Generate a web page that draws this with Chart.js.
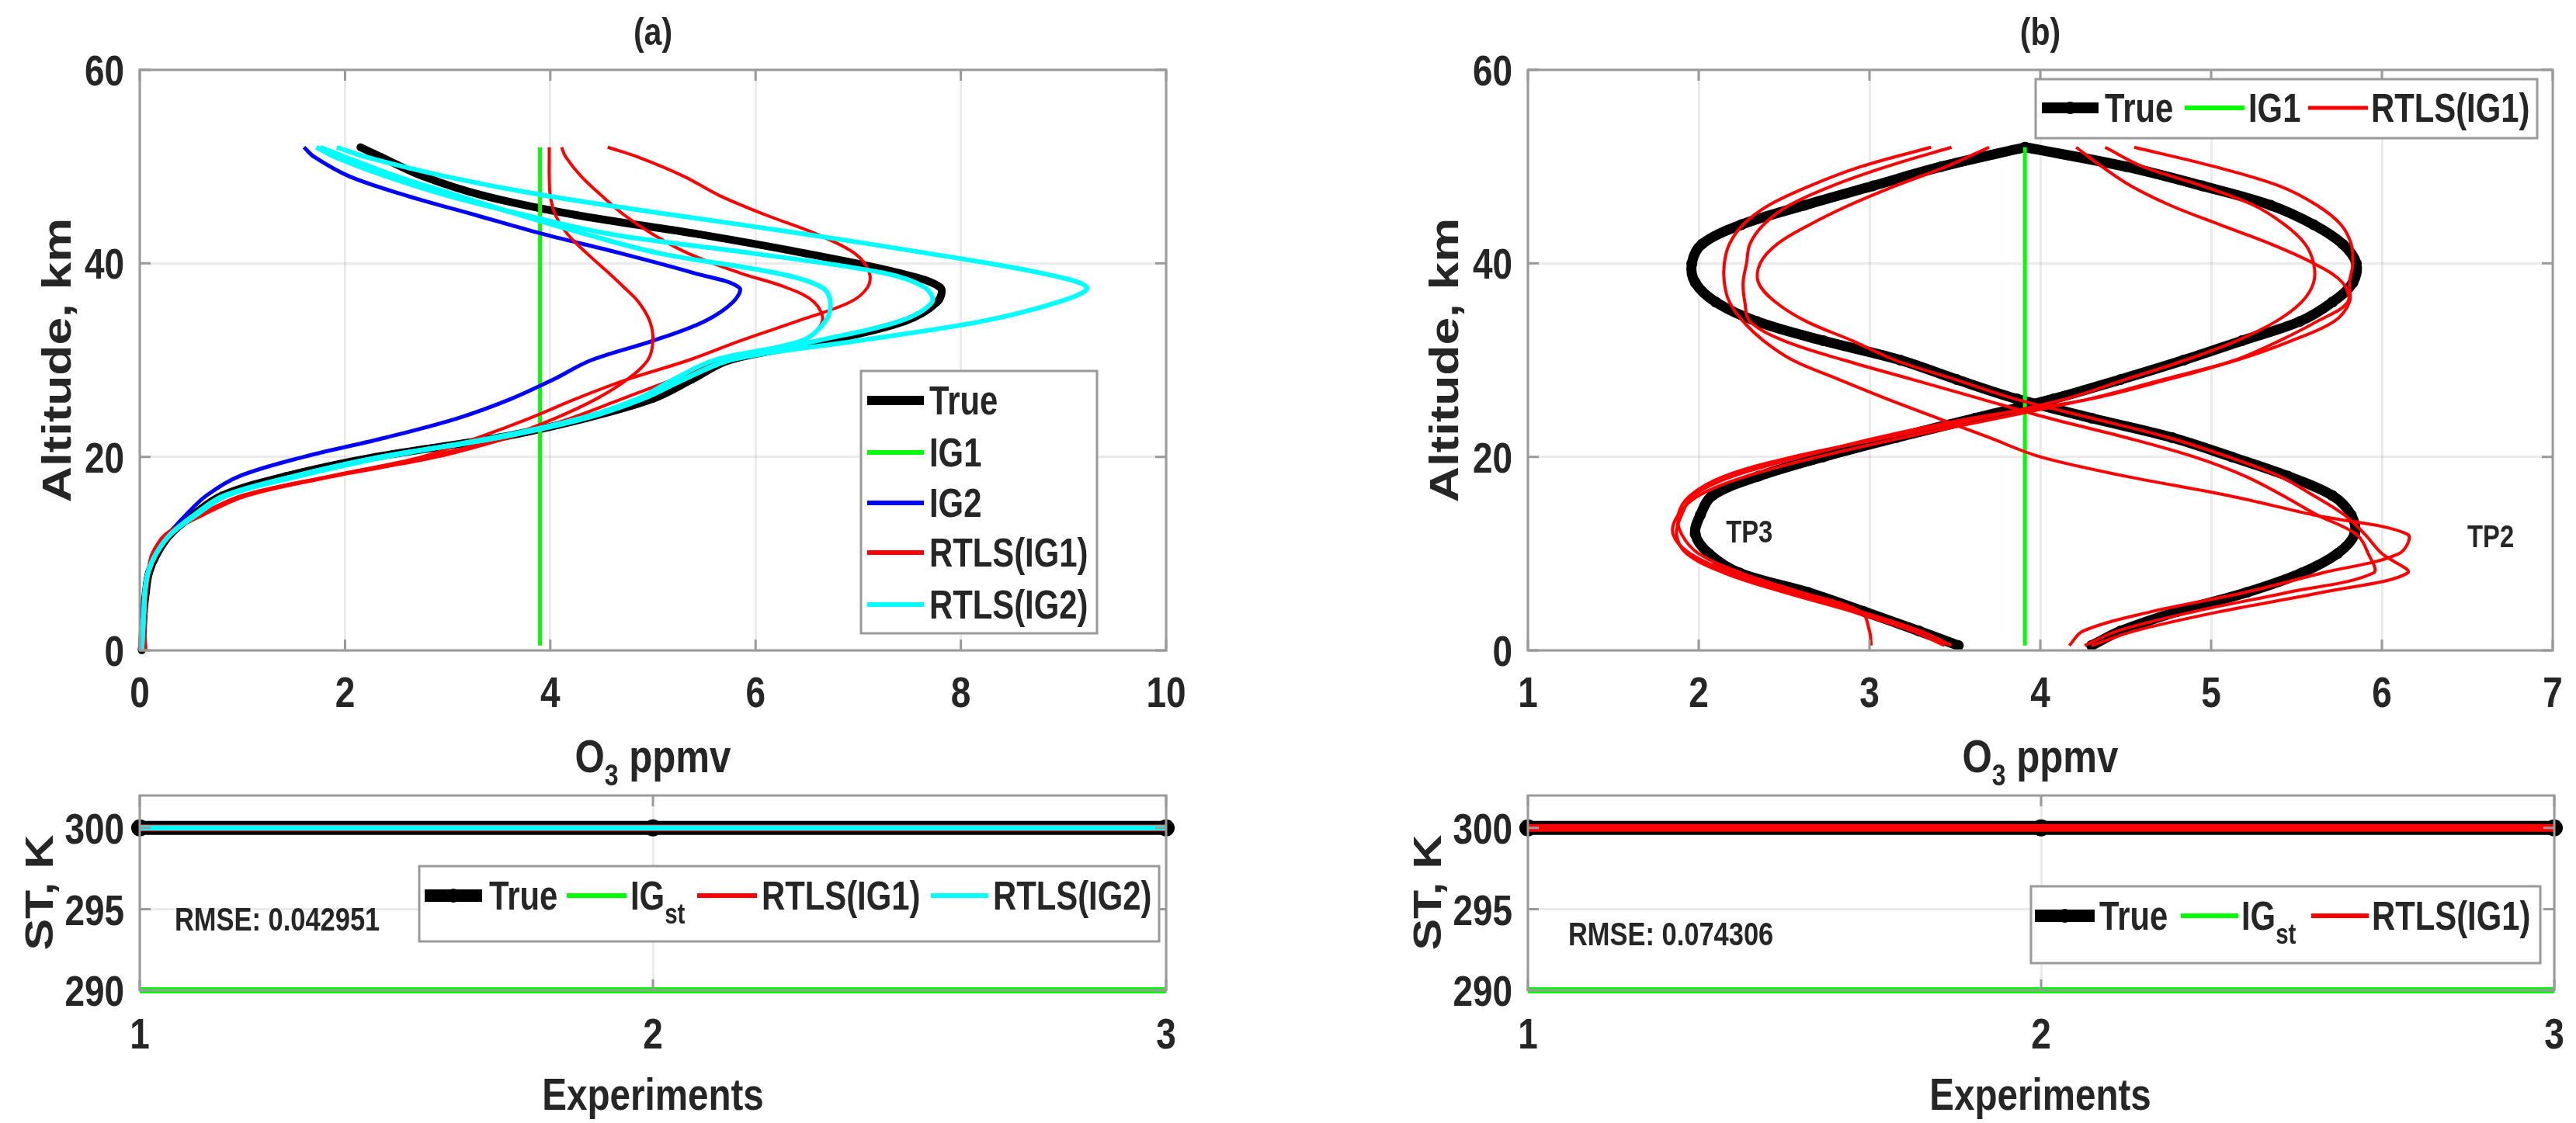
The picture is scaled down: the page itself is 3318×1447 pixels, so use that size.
<!DOCTYPE html>
<html><head><meta charset="utf-8">
<script src="https://cdn.jsdelivr.net/npm/chart.js@4.4.1/dist/chart.umd.min.js"></script>
<style>
html,body{margin:0;padding:0;background:#fff;}
#wrap{position:relative;width:3318px;height:1447px;overflow:hidden;background:#fff;}
canvas{position:absolute;left:0;top:0;}
</style></head><body>
<div id="wrap">
<canvas id="cA" width="3318" height="1447"></canvas>
<canvas id="cB" width="3318" height="1447"></canvas>
<canvas id="cC" width="3318" height="1447"></canvas>
<canvas id="cD" width="3318" height="1447"></canvas>
</div>
<script>
// ---------------- DATA ----------------
// Panel (a): ozone profiles, altitude in km
const altA = [0, 2, 4, 6, 8, 10, 12, 14, 16, 18, 20, 22, 24, 26, 28, 30, 32, 34, 36, 37.5, 39, 41, 43, 45, 47, 49, 51, 52];
const trueA = [0.02, 0.03, 0.04, 0.06, 0.09, 0.17, 0.3, 0.52, 0.8, 1.42, 2.3, 3.5, 4.35, 5.0, 5.38, 5.75, 6.7, 7.45, 7.77, 7.8, 7.4, 6.5, 5.45, 4.25, 3.35, 2.76, 2.35, 2.15];
const ig2A = [0.0, 0.02, 0.03, 0.05, 0.08, 0.15, 0.28, 0.45, 0.65, 0.97, 1.6, 2.4, 3.1, 3.62, 4.03, 4.4, 5.0, 5.5, 5.78, 5.84, 5.4, 4.7, 3.94, 3.27, 2.6, 2.04, 1.7, 1.6];
const rtlsIG1A_1 = [0.05, 0.05, 0.06, 0.07, 0.09, 0.13, 0.25, 0.6, 1.0, 1.85, 2.8, 3.55, 4.05, 4.45, 4.75, 4.95, 5.0, 4.97, 4.86, 4.72, 4.57, 4.36, 4.17, 4.05, 4.0, 3.99, 3.99, 3.99];
const rtlsIG1A_2 = [0.04, 0.04, 0.05, 0.06, 0.08, 0.13, 0.28, 0.62, 1.05, 1.9, 2.9, 3.6, 4.2, 4.7, 5.2, 5.7, 6.45, 6.65, 6.57, 6.3, 5.85, 5.35, 5.0, 4.72, 4.5, 4.3, 4.15, 4.11];
const rtlsIG1A_3 = [0.06, 0.05, 0.05, 0.06, 0.08, 0.12, 0.26, 0.58, 1.0, 1.85, 2.75, 3.3, 3.8, 4.25, 4.75, 5.35, 5.85, 6.4, 6.92, 7.09, 7.11, 6.97, 6.6, 6.1, 5.65, 5.3, 4.85, 4.56];
const rtlsIG2A_1 = [0.02, 0.03, 0.04, 0.05, 0.08, 0.16, 0.3, 0.55, 0.85, 1.5, 2.35, 3.5, 4.35, 4.9, 5.3, 5.75, 7.0, 8.2, 8.95, 9.23, 8.78, 7.7, 6.5, 5.2, 3.95, 2.97, 2.2, 1.92];
const rtlsIG2A_2 = [0.02, 0.03, 0.04, 0.05, 0.08, 0.16, 0.3, 0.53, 0.82, 1.5, 2.35, 3.5, 4.3, 4.9, 5.3, 5.75, 6.6, 7.4, 7.72, 7.65, 7.25, 6.0, 4.6, 3.75, 3.0, 2.4, 1.9, 1.72];
const rtlsIG2A_3 = [0.02, 0.03, 0.04, 0.05, 0.08, 0.16, 0.3, 0.55, 0.85, 1.55, 2.4, 3.45, 4.3, 4.85, 5.2, 5.6, 6.45, 6.68, 6.73, 6.65, 6.2, 5.08, 4.35, 3.7, 3.1, 2.5, 2.0, 1.76];
const altIG1 = [0.5, 52];
const ig1A = [3.9, 3.9];

// Panel (b): test profiles TP2 / TP3
const altB = [0.5, 2, 4, 6, 8, 10, 12, 14, 16, 18, 20, 22, 24, 26, 28, 30, 32, 34, 36, 38, 40, 42, 44, 46, 48, 50, 52];
const trueTP2 = [4.3, 4.47, 4.8, 5.21, 5.53, 5.74, 5.84, 5.82, 5.71, 5.45, 5.12, 4.77, 4.3, 3.86, 3.51, 3.18, 2.73, 2.34, 2.1, 1.98, 1.96, 2.02, 2.25, 2.62, 3.02, 3.42, 3.91];
const trueTP3 = [3.52, 3.29, 2.97, 2.64, 2.24, 2.06, 1.98, 2.01, 2.08, 2.35, 2.73, 3.16, 3.62, 4.08, 4.47, 4.84, 5.18, 5.52, 5.71, 5.83, 5.85, 5.77, 5.6, 5.35, 4.95, 4.5, 3.91];
const rtlsTP2_1 = [4.17, 4.25, 4.65, 5.2, 5.65, 6.1, 6.15, 5.6, 5.1, 4.5, 4.0, 3.7, 3.4, 3.1, 2.82, 2.55, 2.38, 2.26, 2.18, 2.15, 2.15, 2.18, 2.26, 2.41, 2.65, 2.95, 3.36];
const rtlsTP2_2 = [4.26, 4.45, 4.9, 5.45, 5.95, 5.92, 5.85, 5.62, 5.42, 5.2, 4.9, 4.5, 4.05, 3.65, 3.25, 2.85, 2.5, 2.3, 2.27, 2.26, 2.28, 2.3, 2.38, 2.53, 2.78, 3.1, 3.48];
const rtlsTP2_3 = [4.3, 4.55, 5.05, 5.65, 6.15, 6.0, 5.9, 5.78, 5.6, 5.4, 5.1, 4.75, 4.3, 3.85, 3.5, 3.15, 2.9, 2.63, 2.45, 2.35, 2.36, 2.46, 2.65, 2.88, 3.15, 3.45, 3.7];
const rtlsTP3_1 = [3.48, 3.3, 2.95, 2.55, 2.2, 1.95, 1.85, 1.88, 2.0, 2.28, 2.7, 3.2, 3.75, 4.29, 4.72, 5.15, 5.47, 5.72, 5.81, 5.81, 5.83, 5.82, 5.76, 5.62, 5.4, 5.02, 4.55];
const rtlsTP3_2 = [3.01, 3.0, 2.95, 2.6, 2.25, 2.0, 1.9, 1.88, 1.95, 2.15, 2.55, 3.1, 3.65, 4.15, 4.5, 4.85, 5.15, 5.38, 5.53, 5.6, 5.6, 5.55, 5.43, 5.25, 4.95, 4.6, 4.38];
const rtlsTP3_3 = [3.44, 3.25, 2.9, 2.5, 2.15, 1.93, 1.87, 1.9, 1.97, 2.2, 2.6, 3.05, 3.6, 4.3, 4.75, 5.14, 5.4, 5.62, 5.8, 5.77, 5.6, 5.35, 5.05, 4.76, 4.53, 4.36, 4.21];
const ig1B = [3.91, 3.91];

// Bottom panels: surface temperature per experiment
const experiments = [1, 2, 3];
const stTrueA = [300, 300, 300];
const stIGA = [290, 290, 290];
const stRtlsIG1A = [300, 300, 300];
const stRtlsIG2A = [300, 300, 300];
const stTrueB = [300, 300, 300];
const stIGB = [290, 290, 290];
const stRtlsIG1B = [300, 300, 300];

// Tick labels
const xTicksA = [0, 2, 4, 6, 8, 10];
const xTicksB = [1, 2, 3, 4, 5, 6, 7];
const yTicksAlt = [0, 20, 40, 60];
const xTicksExp = [1, 2, 3];
const yTicksST = [290, 295, 300];

const rmseA = 'RMSE: 0.042951';
const rmseB = 'RMSE: 0.074306';

// ---------------- STYLE / LAYOUT ----------------
const W = 3318, H = 1447, YW = 120, XH = 120, TL = 14, SX = 0.82;
const FAM = '"Liberation Sans","Arimo",Arial,"DejaVu Sans",sans-serif';
const TXT = '#262626', AXIS = '#9a9a9a', GRID = 'rgba(0,0,0,0.08)';
const BLACK = '#000000', GREEN = '#00ff00', BLUE = '#0000ff', RED = '#ff0000', CYAN = '#00ffff';

function pts(xs, ys) { return xs.map((x, i) => ({ x: x, y: ys[i] })); }
function prof(vals, alts) { return vals.map((v, i) => ({ x: v, y: alts[i] })); }

function ds(data, color, width, order, extra) {
  return Object.assign({ data: data, showLine: true, borderColor: color, backgroundColor: color,
    borderWidth: width, pointRadius: 0, tension: 0.35, order: order, clip: 20 }, extra || {});
}

function bfont(px) { return 'bold ' + px + 'px ' + FAM; }
function measure(ctx, s, px) { ctx.font = bfont(px); return ctx.measureText(s).width * SX; }
// horizontally condensed bold text; cy = visual centre of capitals
function text(ctx, s, x, cy, px, align) {
  const w = measure(ctx, s, px);
  let x0 = x; if (align === 'center') x0 = x - w / 2; else if (align === 'right') x0 = x - w;
  ctx.save(); ctx.translate(x0, cy + px * 0.36); ctx.scale(SX, 1);
  ctx.font = bfont(px); ctx.fillStyle = TXT; ctx.textAlign = 'left'; ctx.textBaseline = 'alphabetic';
  ctx.fillText(s, 0, 0); ctx.restore();
  return w;
}
function rotText(ctx, s, cx, cy, px) {
  ctx.save(); ctx.translate(cx, cy); ctx.rotate(-Math.PI / 2); ctx.scale(1, SX);
  ctx.font = bfont(px); ctx.fillStyle = TXT; ctx.textAlign = 'center'; ctx.textBaseline = 'alphabetic';
  ctx.fillText(s, 0, px * 0.36); ctx.restore();
}
function subText(ctx, main, sub, x, cy, px) {
  const w1 = text(ctx, main, x, cy, px, 'left');
  text(ctx, sub, x + w1, cy + px * 0.45, Math.round(px * 0.7), 'left');
}
function o3Label(ctx, cx, cy, px) {
  const sp = Math.round(px * 0.65);
  const wO = measure(ctx, 'O', px), w3 = measure(ctx, '3', sp), wP = measure(ctx, ' ppmv', px);
  const x0 = cx - (wO + w3 + wP) / 2;
  text(ctx, 'O', x0, cy, px);
  text(ctx, '3', x0 + wO, cy + px * 0.42, sp);
  text(ctx, ' ppmv', x0 + wO + w3, cy, px);
}
function legendBox(ctx, x0, y0, x1, y1) {
  ctx.fillStyle = '#ffffff'; ctx.fillRect(x0, y0, x1 - x0, y1 - y0);
  ctx.strokeStyle = AXIS; ctx.lineWidth = 3; ctx.strokeRect(x0, y0, x1 - x0, y1 - y0);
}
function sample(ctx, x0, x1, y, color, w, marker) {
  ctx.strokeStyle = color; ctx.lineWidth = w; ctx.lineCap = 'butt';
  ctx.beginPath(); ctx.moveTo(x0, y); ctx.lineTo(x1, y); ctx.stroke();
  if (marker) { ctx.fillStyle = color; ctx.beginPath(); ctx.arc((x0 + x1) / 2, y, marker, 0, Math.PI * 2); ctx.fill(); }
}

function panelPlugin(extra, xLabelCy) {
  return { id: 'panel', afterDraw(chart) {
    const ctx = chart.ctx, a = chart.chartArea, xs = chart.scales.x, ys = chart.scales.y;
    ctx.save();
    ctx.strokeStyle = AXIS; ctx.lineWidth = 3;
    ctx.beginPath();
    xs.ticks.forEach(t => { const p = xs.getPixelForValue(t.value);
      ctx.moveTo(p, a.bottom); ctx.lineTo(p, a.bottom - TL); ctx.moveTo(p, a.top); ctx.lineTo(p, a.top + TL); });
    ys.ticks.forEach(t => { const p = ys.getPixelForValue(t.value);
      ctx.moveTo(a.left, p); ctx.lineTo(a.left + TL, p); ctx.moveTo(a.right, p); ctx.lineTo(a.right - TL, p); });
    ctx.stroke();
    ctx.strokeRect(a.left, a.top, a.right - a.left, a.bottom - a.top);
    // tick labels from the library's scales
    xs.ticks.forEach(t => text(ctx, String(t.value), xs.getPixelForValue(t.value), xLabelCy, 56, 'center'));
    ys.ticks.forEach(t => text(ctx, String(t.value), a.left - 20, ys.getPixelForValue(t.value), 56, 'right'));
    extra(ctx, chart);
    ctx.restore();
  }};
}

function makeChart(id, area, xr, yr, xt, yt, datasets, extra, xLabelCy) {
  const L = area[0], T = area[1], R = area[2], B = area[3];
  return new Chart(document.getElementById(id), {
    type: 'scatter',
    data: { datasets: datasets },
    options: {
      responsive: false, animation: false, devicePixelRatio: 1,
      layout: { padding: { left: L - YW, top: T, right: W - R, bottom: H - B - XH } },
      plugins: { legend: { display: false }, tooltip: { enabled: false } },
      scales: {
        x: { type: 'linear', min: xr[0], max: xr[1],
          afterBuildTicks: s => { s.ticks = xt.map(v => ({ value: v })); },
          afterFit: s => { s.height = XH; },
          grid: { color: GRID, lineWidth: 3, drawTicks: false }, border: { display: false },
          ticks: { display: false } },
        y: { type: 'linear', min: yr[0], max: yr[1],
          afterBuildTicks: s => { s.ticks = yt.map(v => ({ value: v })); },
          afterFit: s => { s.width = YW; },
          grid: { color: GRID, lineWidth: 3, drawTicks: false }, border: { display: false },
          ticks: { display: false } }
      }
    },
    plugins: [panelPlugin(extra, xLabelCy)]
  });
}

// ---------------- PANEL (a) top ----------------
makeChart('cA', [180, 90, 1502, 838], [0, 10], [0, 60], xTicksA, yTicksAlt, [
  ds(prof(rtlsIG2A_1, altA), CYAN, 6, 0),
  ds(prof(rtlsIG2A_2, altA), CYAN, 6, 1),
  ds(prof(rtlsIG2A_3, altA), CYAN, 6, 2),
  ds(prof(rtlsIG1A_1, altA), RED, 4, 3),
  ds(prof(rtlsIG1A_2, altA), RED, 4, 4),
  ds(prof(rtlsIG1A_3, altA), RED, 4, 5),
  ds(prof(ig2A, altA), BLUE, 5, 6),
  ds(prof(ig1A, altIG1), GREEN, 5, 7, { tension: 0 }),
  ds(prof(trueA, altA), BLACK, 10, 8, { pointRadius: 5, pointBorderWidth: 0 })
], (ctx) => {
  text(ctx, '(a)', 841, 40, 50, 'center');
  rotText(ctx, 'Altitude, km', 72, 464, 64);
  o3Label(ctx, 841, 973, 60);
  legendBox(ctx, 1109, 478, 1413, 816);
  const items = [['True', BLACK, 12, 516], ['IG1', GREEN, 6, 583], ['IG2', BLUE, 6, 648], ['RTLS(IG1)', RED, 6, 712], ['RTLS(IG2)', CYAN, 6, 779]];
  items.forEach(it => { sample(ctx, 1117, 1190, it[3], it[1], it[2]); text(ctx, it[0], 1197, it[3], 51); });
}, 891);

// ---------------- PANEL (b) top ----------------
makeChart('cB', [1968, 90, 3288, 838], [1, 7], [0, 60], xTicksB, yTicksAlt, [
  ds(prof(rtlsTP2_1, altB), RED, 4, 0),
  ds(prof(rtlsTP2_2, altB), RED, 4, 1),
  ds(prof(rtlsTP2_3, altB), RED, 4, 2),
  ds(prof(rtlsTP3_1, altB), RED, 4, 3),
  ds(prof(rtlsTP3_2, altB), RED, 4, 4),
  ds(prof(rtlsTP3_3, altB), RED, 4, 5),
  ds(prof(ig1B, altIG1), GREEN, 5, 6, { tension: 0 }),
  ds(prof(trueTP2, altB), BLACK, 13, 7, { pointRadius: 7, pointBorderWidth: 0 }),
  ds(prof(trueTP3, altB), BLACK, 13, 8, { pointRadius: 7, pointBorderWidth: 0 })
], (ctx, chart) => {
  const xs = chart.scales.x, ys = chart.scales.y;
  text(ctx, '(b)', 2628, 40, 50, 'center');
  rotText(ctx, 'Altitude, km', 1859, 464, 64);
  o3Label(ctx, 2628, 973, 60);
  text(ctx, 'TP3', xs.getPixelForValue(2.16), ys.getPixelForValue(12.3), 40);
  text(ctx, 'TP2', xs.getPixelForValue(6.5), ys.getPixelForValue(11.8), 40);
  legendBox(ctx, 2622, 102, 3268, 178);
  sample(ctx, 2630, 2703, 139, BLACK, 14, 8); text(ctx, 'True', 2711, 139, 51);
  sample(ctx, 2814, 2891, 139, GREEN, 6); text(ctx, 'IG1', 2896, 139, 51);
  sample(ctx, 2973, 3050, 139, RED, 5); text(ctx, 'RTLS(IG1)', 3054, 139, 51);
}, 891);

// ---------------- PANEL (a) bottom ----------------
makeChart('cC', [180, 1025, 1502, 1276], [1, 3], [290, 302], xTicksExp, yTicksST, [
  ds(pts(experiments, stRtlsIG2A), CYAN, 7, 0, { tension: 0 }),
  ds(pts(experiments, stRtlsIG1A), RED, 9, 1, { tension: 0 }),
  ds(pts(experiments, stIGA), GREEN, 8, 2, { tension: 0 }),
  ds(pts(experiments, stTrueA), BLACK, 18, 3, { tension: 0, pointRadius: 11, pointBorderWidth: 0 })
], (ctx) => {
  rotText(ctx, 'ST, K', 50, 1150, 61);
  text(ctx, 'Experiments', 841, 1409, 58, 'center');
  text(ctx, rmseA, 225, 1184, 42);
  legendBox(ctx, 540, 1116, 1493, 1213);
  sample(ctx, 547, 621, 1154, BLACK, 16, 9); text(ctx, 'True', 630, 1154, 51);
  sample(ctx, 730, 807, 1154, GREEN, 6); subText(ctx, 'IG', 'st', 812, 1154, 51);
  sample(ctx, 898, 975, 1154, RED, 6); text(ctx, 'RTLS(IG1)', 981, 1154, 51);
  sample(ctx, 1199, 1273, 1154, CYAN, 6); text(ctx, 'RTLS(IG2)', 1279, 1154, 51);
}, 1331);

// ---------------- PANEL (b) bottom ----------------
makeChart('cD', [1968, 1025, 3290, 1276], [1, 3], [290, 302], xTicksExp, yTicksST, [
  ds(pts(experiments, stRtlsIG1B), RED, 10, 0, { tension: 0 }),
  ds(pts(experiments, stIGB), GREEN, 8, 1, { tension: 0 }),
  ds(pts(experiments, stTrueB), BLACK, 18, 2, { tension: 0, pointRadius: 11, pointBorderWidth: 0 })
], (ctx) => {
  rotText(ctx, 'ST, K', 1838, 1150, 61);
  text(ctx, 'Experiments', 2628, 1409, 58, 'center');
  text(ctx, rmseB, 2020, 1203, 42);
  legendBox(ctx, 2616, 1142, 3272, 1241);
  sample(ctx, 2621, 2698, 1180, BLACK, 16, 9); text(ctx, 'True', 2704, 1180, 51);
  sample(ctx, 2809, 2883, 1180, GREEN, 6); subText(ctx, 'IG', 'st', 2887, 1180, 51);
  sample(ctx, 2977, 3051, 1180, RED, 6); text(ctx, 'RTLS(IG1)', 3055, 1180, 51);
}, 1331);
</script>
</body></html>
